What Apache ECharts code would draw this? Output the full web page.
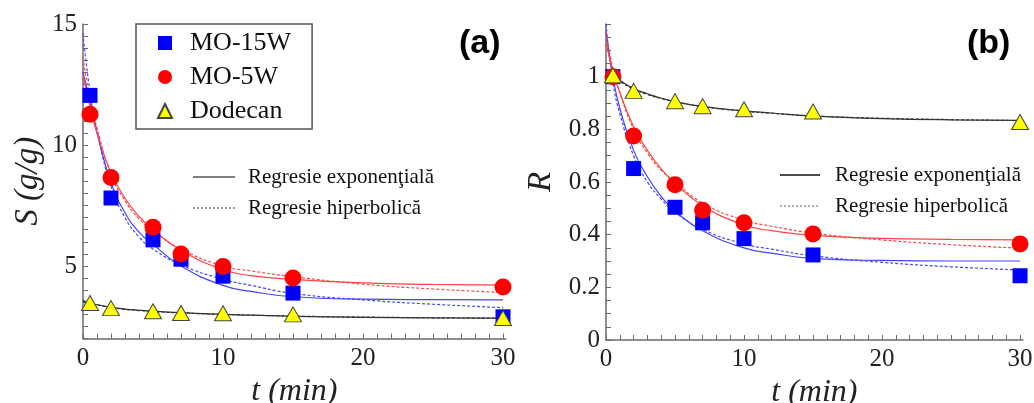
<!DOCTYPE html>
<html>
<head>
<meta charset="utf-8">
<script src="https://cdn.jsdelivr.net/npm/echarts@6/dist/echarts.min.js"></script>
<style>
html,body{margin:0;padding:0;background:#fff;}
#c{width:1034px;height:403px;}
</style>
</head>
<body>
<div id="c"></div>
<script>
// ---- measured points ----
const tData = [0.5, 2, 5, 7, 10, 15, 30];
// panel (a): S (g/g)
const s15 = [12.05, 7.81, 6.08, 5.28, 4.58, 3.88, 2.9];
const s5 = [11.27, 8.66, 6.6, 5.5, 4.98, 4.5, 4.13];
const sDod = [3.47, 3.26, 3.13, 3.06, 3.05, 3.0, 2.85];
// panel (b): R
const r15 = [1.0, 0.651, 0.504, 0.445, 0.385, 0.323, 0.244];
const r5 = [1.0, 0.775, 0.59, 0.493, 0.445, 0.403, 0.365];
const rDod = [1.005, 0.946, 0.907, 0.888, 0.876, 0.868, 0.828];

// ---- regression curves ----
const curveT = [0, 0.5, 1, 2, 3, 4, 5, 7, 10, 12, 15, 20, 25, 30];
const blueExpS = [13.0, 11.8, 10.5, 8.45, 7.2, 6.4, 5.9, 5.0, 4.2, 3.95, 3.73, 3.63, 3.61, 3.6];
const blueHypS = [14.6, 12.2, 10.6, 8.3, 7.0, 6.2, 5.7, 5.05, 4.45, 4.2, 3.87, 3.6, 3.42, 3.28];
const redExpS = [12.9, 11.6, 10.5, 8.85, 7.8, 7.05, 6.5, 5.65, 4.85, 4.6, 4.45, 4.3, 4.24, 4.21];
const redHypS = [13.6, 11.9, 10.7, 8.8, 7.7, 6.95, 6.45, 5.7, 5.0, 4.8, 4.56, 4.25, 4.05, 3.91];
const dodExpS = [3.52, 3.45, 3.4, 3.3, 3.22, 3.17, 3.13, 3.07, 3.0, 2.97, 2.92, 2.88, 2.86, 2.85];
const dodHypS = [3.58, 3.46, 3.4, 3.29, 3.21, 3.16, 3.12, 3.06, 3.0, 2.97, 2.93, 2.89, 2.86, 2.84];

const blueExpR = [1.17, 1.0, 0.88, 0.72, 0.62, 0.545, 0.49, 0.415, 0.35, 0.33, 0.31, 0.302, 0.30, 0.30];
const blueHypR = [1.2, 0.98, 0.86, 0.70, 0.60, 0.535, 0.485, 0.42, 0.365, 0.345, 0.32, 0.295, 0.278, 0.266];
const redExpR = [1.13, 1.02, 0.94, 0.81, 0.72, 0.65, 0.595, 0.51, 0.437, 0.415, 0.397, 0.386, 0.382, 0.38];
const redHypR = [1.17, 1.03, 0.94, 0.80, 0.71, 0.645, 0.60, 0.52, 0.455, 0.432, 0.406, 0.38, 0.362, 0.349];
const dodExpR = [1.01, 1.0, 0.985, 0.955, 0.935, 0.918, 0.905, 0.887, 0.87, 0.862, 0.85, 0.841, 0.836, 0.834];
const dodHypR = [1.03, 1.0, 0.983, 0.952, 0.932, 0.917, 0.905, 0.886, 0.869, 0.861, 0.851, 0.842, 0.837, 0.833];

// ---- tick labels ----
const xTickLabels = [0, 10, 20, 30];
const sTickLabels = [5, 10, 15];
const rTickLabels = [0, 0.2, 0.4, 0.6, 0.8, 1];

const legendNames = ['MO-15W', 'MO-5W', 'Dodecan'];
const fitNames = ['Regresie exponenţială', 'Regresie hiperbolică'];

function range(a, b, step) {
  const out = [];
  const n = Math.round((b - a) / step);
  for (let i = 0; i <= n; i++) out.push(+(a + i * step).toFixed(4));
  return out;
}
const zip = (xs, ys) => xs.map((x, i) => [x, ys[i]]);

const SERIF = 'Liberation Serif';
const axisColor = '#6a6a6a';
const labelColor = '#222';
const BLUE = '#0000ff', RED = '#ff0000', YEL = '#ffff00';
const BLUE_L = '#4444ff', RED_L = '#ff4444', BLK_L = '#333333';

function xAxisCfg(grid) {
  return {
    type: 'value', gridIndex: grid, min: 0, max: 30.2,
    name: 't (min)', nameLocation: 'middle', nameGap: 28,
    nameTextStyle: { fontFamily: SERIF, fontStyle: 'italic', fontSize: 32, color: labelColor },
    axisLine: { show: true, onZero: false, lineStyle: { color: axisColor, width: 1.5 } },
    axisTick: { show: true, inside: true, length: 5, customValues: range(0, 30, 1), lineStyle: { color: axisColor, width: 1 } },
    axisLabel: { customValues: xTickLabels, margin: 7, fontFamily: SERIF, fontSize: 25, color: labelColor },
    splitLine: { show: false }
  };
}

const option = {
  animation: false,
  backgroundColor: '#ffffff',
  grid: [
    { left: 83, top: 24, width: 422.8, height: 314.6, outerBoundsMode: 'none', containLabel: false },
    { left: 606, top: 24, width: 416.8, height: 316, outerBoundsMode: 'none', containLabel: false }
  ],
  xAxis: [xAxisCfg(0), xAxisCfg(1)],
  yAxis: [
    {
      type: 'value', gridIndex: 0, min: 2, max: 15,
      name: 'S (g/g)', nameLocation: 'middle', nameGap: 38, nameRotate: 90,
      nameTextStyle: { fontFamily: SERIF, fontStyle: 'italic', fontSize: 33, color: labelColor },
      axisLine: { show: true, onZero: false, lineStyle: { color: axisColor, width: 1.5 } },
      axisTick: { show: true, inside: true, length: 5, customValues: range(2, 15, 0.5), lineStyle: { color: axisColor, width: 1 } },
      axisLabel: { customValues: sTickLabels, margin: 6, fontFamily: SERIF, fontSize: 25, color: labelColor },
      splitLine: { show: false }
    },
    {
      type: 'value', gridIndex: 1, min: 0, max: 1.2,
      name: 'R', nameLocation: 'middle', nameGap: 48, nameRotate: 90,
      nameTextStyle: { fontFamily: SERIF, fontStyle: 'italic', fontSize: 33, color: labelColor },
      axisLine: { show: true, onZero: false, lineStyle: { color: axisColor, width: 1.5 } },
      axisTick: { show: true, inside: true, length: 5, customValues: range(0, 1.2, 0.05), lineStyle: { color: axisColor, width: 1 } },
      axisLabel: { customValues: rTickLabels, margin: 6, fontFamily: SERIF, fontSize: 25, color: labelColor,
        formatter: v => String(+v.toFixed(2)) },
      splitLine: { show: false }
    }
  ],
  legend: {
    data: legendNames,
    orient: 'vertical', left: 136, top: 24,
    borderColor: '#555', borderWidth: 1.5,
    padding: [6, 21, 5, 21], itemGap: 8,
    itemWidth: 14, itemHeight: 14,
    formatter: name => '\u2002' + name,
    textStyle: { fontFamily: SERIF, fontSize: 26, color: '#111' },
    selectedMode: false
  },
  graphic: [
    { type: 'text', left: 459, top: 27, style: { text: '(a)', font: 'bold 34px "Liberation Sans"', fill: '#000' } },
    { type: 'text', left: 967, top: 27, style: { text: '(b)', font: 'bold 34px "Liberation Sans"', fill: '#000' } },
    { type: 'line', shape: { x1: 193, y1: 177, x2: 235, y2: 177 }, style: { stroke: '#555', lineWidth: 1.3 } },
    { type: 'line', shape: { x1: 193, y1: 208, x2: 235, y2: 208 }, style: { stroke: '#555', lineWidth: 1.2, lineDash: [2, 2] } },
    { type: 'text', x: 248, y: 177, style: { text: fitNames[0], font: '21px "Liberation Serif"', fill: '#111', verticalAlign: 'middle' } },
    { type: 'text', x: 248, y: 208, style: { text: fitNames[1], font: '21px "Liberation Serif"', fill: '#111', verticalAlign: 'middle' } },
    { type: 'line', shape: { x1: 780, y1: 175, x2: 820, y2: 175 }, style: { stroke: '#111', lineWidth: 1.3 } },
    { type: 'line', shape: { x1: 780, y1: 206, x2: 820, y2: 206 }, style: { stroke: '#777', lineWidth: 1.2, lineDash: [2, 2] } },
    { type: 'text', x: 835, y: 175, style: { text: fitNames[0], font: '21px "Liberation Serif"', fill: '#111', verticalAlign: 'middle' } },
    { type: 'text', x: 835, y: 206, style: { text: fitNames[1], font: '21px "Liberation Serif"', fill: '#111', verticalAlign: 'middle' } }
  ],
  series: []
};

function curve(name, grid, ys, color, dashed) {
  return {
    name: name, type: 'line', xAxisIndex: grid, yAxisIndex: grid,
    data: zip(curveT, ys), smooth: 0.5,
    showSymbol: false, symbol: 'none', silent: true, z: 2,
    lineStyle: { color: color, width: 1.2, type: dashed ? [3, 2] : 'solid' }
  };
}
function scatter(name, grid, ys, symbol, size, color, border) {
  return {
    name: name, type: 'scatter', xAxisIndex: grid, yAxisIndex: grid,
    data: zip(tData, ys), symbol: symbol, symbolSize: size, z: 5,
    itemStyle: { color: color, borderColor: border || color, borderWidth: border ? 1 : 0, opacity: 1 }
  };
}

option.series.push(
  curve('blueExpS', 0, blueExpS, BLUE_L, false),
  curve('blueHypS', 0, blueHypS, BLUE_L, true),
  curve('redExpS', 0, redExpS, RED_L, false),
  curve('redHypS', 0, redHypS, RED_L, true),
  curve('dodExpS', 0, dodExpS, BLK_L, false),
  curve('dodHypS', 0, dodHypS, BLK_L, true),
  curve('blueExpR', 1, blueExpR, BLUE_L, false),
  curve('blueHypR', 1, blueHypR, BLUE_L, true),
  curve('redExpR', 1, redExpR, RED_L, false),
  curve('redHypR', 1, redHypR, RED_L, true),
  curve('dodExpR', 1, dodExpR, BLK_L, false),
  curve('dodHypR', 1, dodHypR, BLK_L, true),
  scatter(legendNames[0], 0, s15, 'rect', 15, BLUE),
  scatter(legendNames[1], 0, s5, 'circle', 17, RED),
  scatter(legendNames[2], 0, sDod, 'triangle', [17, 15], YEL, '#444'),
  scatter(legendNames[0], 1, r15, 'rect', 15, BLUE),
  scatter(legendNames[1], 1, r5, 'circle', 17, RED),
  scatter(legendNames[2], 1, rDod, 'triangle', [17, 15], YEL, '#444')
);

const chart = echarts.init(document.getElementById('c'), null, { renderer: 'canvas' });
chart.setOption(option);
</script>
</body>
</html>
